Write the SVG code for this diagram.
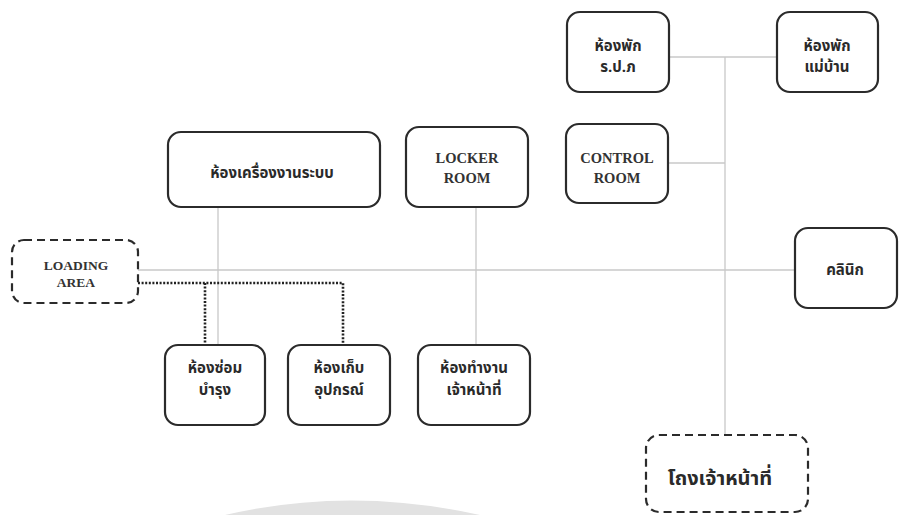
<svg xmlns="http://www.w3.org/2000/svg" width="909" height="515" viewBox="0 0 909 515">
  <style>
    .box { fill: #ffffff; stroke: #2b2b2b; stroke-width: 2.2; }
    .dash { fill: #ffffff; stroke: #2b2b2b; stroke-width: 2.2; stroke-dasharray: 8 5; }
    .link { fill: none; stroke: #c8c8c8; stroke-width: 1.3; }
    .dot { fill: none; stroke: #222222; stroke-width: 2.6; stroke-dasharray: 2 1.6; }
    .th { font-family: "Noto Sans Thai", "Noto Serif Thai", "Liberation Serif", serif; font-size: 15px; font-weight: bold; fill: #2a2a2a; text-anchor: middle; }
    .en { font-family: "Liberation Serif", serif; font-size: 14.5px; font-weight: bold; fill: #333333; text-anchor: middle; }
  </style>

  <!-- faint watermark arc at the bottom edge -->
  <path d="M 225 515 Q 350 486 480 515 Z" fill="#e2e2e2"/>

  <g id="connectors">
    <line class="link" x1="669" y1="57" x2="777" y2="57"/>
    <line class="link" x1="725" y1="57" x2="725" y2="435"/>
    <line class="link" x1="668" y1="163" x2="725" y2="163"/>
    <line class="link" x1="138" y1="270" x2="795" y2="270"/>
    <line class="link" x1="218" y1="207" x2="218" y2="345"/>
    <line class="link" x1="476" y1="207" x2="476" y2="345"/>
    <polyline class="dot" points="138,283 343,283 343,345"/>
    <line class="dot" x1="205" y1="283" x2="205" y2="345"/>
  </g>

  <g id="guard-rest">
    <rect class="box" x="567" y="12" width="102" height="80" rx="13"/>
    <text class="th" x="618" y="51">ห้องพัก</text>
    <text class="th" x="618" y="72">ร.ป.ภ</text>
  </g>

  <g id="housekeeper-rest">
    <rect class="box" x="777" y="12" width="101" height="80" rx="13"/>
    <text class="th" x="827" y="51">ห้องพัก</text>
    <text class="th" x="827" y="72">แม่บ้าน</text>
  </g>

  <g id="control-room">
    <rect class="box" x="566" y="124" width="102" height="79" rx="13"/>
    <text class="en" x="617" y="163">CONTROL</text>
    <text class="en" x="617" y="183">ROOM</text>
  </g>

  <g id="locker-room">
    <rect class="box" x="406" y="127" width="122" height="80" rx="13"/>
    <text class="en" x="467" y="163">LOCKER</text>
    <text class="en" x="467" y="183">ROOM</text>
  </g>

  <g id="machine-room">
    <rect class="box" x="168" y="132" width="212" height="75" rx="13"/>
    <text class="th" x="272" y="178">ห้องเครื่องงานระบบ</text>
  </g>

  <g id="loading-area">
    <rect class="dash" x="12" y="240" width="126" height="63" rx="12"/>
    <text class="en" x="76" y="270" style="font-size:13.5px">LOADING</text>
    <text class="en" x="76" y="287" style="font-size:13.5px">AREA</text>
  </g>

  <g id="clinic">
    <rect class="box" x="795" y="228" width="102" height="80" rx="13"/>
    <text class="th" x="845" y="275">คลินิก</text>
  </g>

  <g id="repair-room">
    <rect class="box" x="165" y="345" width="100" height="80" rx="13"/>
    <text class="th" x="215" y="373">ห้องซ่อม</text>
    <text class="th" x="215" y="395">บำรุง</text>
  </g>

  <g id="storage-room">
    <rect class="box" x="288" y="345" width="102" height="80" rx="13"/>
    <text class="th" x="339" y="373">ห้องเก็บ</text>
    <text class="th" x="339" y="395">อุปกรณ์</text>
  </g>

  <g id="staff-office">
    <rect class="box" x="418" y="345" width="112" height="80" rx="13"/>
    <text class="th" x="474" y="373">ห้องทำงาน</text>
    <text class="th" x="474" y="395">เจ้าหน้าที่</text>
  </g>

  <g id="staff-hall">
    <rect class="dash" x="646" y="435" width="162" height="77" rx="13"/>
    <text class="th" x="720" y="485" style="font-size:20px">โถงเจ้าหน้าที่</text>
  </g>
</svg>
